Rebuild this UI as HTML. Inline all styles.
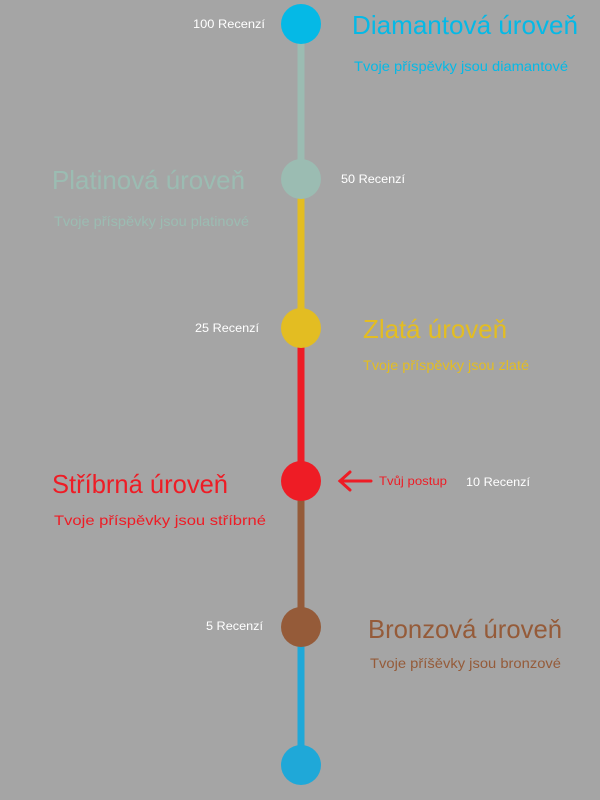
<!DOCTYPE html>
<html><head><meta charset="utf-8"><style>
html,body{margin:0;padding:0;background:#a5a5a5;}
svg{display:block;font-family:"Liberation Sans",sans-serif;}
</style></head><body>
<svg width="600" height="800" viewBox="0 0 600 800" xmlns="http://www.w3.org/2000/svg">
<rect width="600" height="800" fill="#a5a5a5"/>
<rect x="297.5" y="24" width="7" height="155" fill="#9bbcb2"/>
<rect x="297.5" y="179" width="7" height="149" fill="#e3bd22"/>
<rect x="297.5" y="328" width="7" height="153" fill="#ee1c25"/>
<rect x="297.5" y="481" width="7" height="146" fill="#955b39"/>
<rect x="297.5" y="627" width="7" height="138" fill="#1fa8d8"/>
<circle cx="301" cy="24" r="20" fill="#05b9e6"/>
<circle cx="301" cy="179" r="20" fill="#9bbcb2"/>
<circle cx="301" cy="328" r="20" fill="#e3bd22"/>
<circle cx="301" cy="481" r="20" fill="#ee1c25"/>
<circle cx="301" cy="627" r="20" fill="#955b39"/>
<circle cx="301" cy="765" r="20" fill="#1fa8d8"/>

<g font-size="12" fill="#ffffff">
<text x="193" y="28" textLength="72" lengthAdjust="spacingAndGlyphs">100 Recenzí</text>
<text x="341" y="183" textLength="64" lengthAdjust="spacingAndGlyphs">50 Recenzí</text>
<text x="195" y="332" textLength="64" lengthAdjust="spacingAndGlyphs">25 Recenzí</text>
<text x="466" y="486" textLength="64" lengthAdjust="spacingAndGlyphs">10 Recenzí</text>
<text x="206" y="630" textLength="57" lengthAdjust="spacingAndGlyphs">5 Recenzí</text>
</g>

<g font-size="26">
<text x="352" y="34" fill="#05b9e6" textLength="226" lengthAdjust="spacingAndGlyphs">Diamantová úroveň</text>
<text x="52" y="189" fill="#9bbcb2" textLength="193" lengthAdjust="spacingAndGlyphs">Platinová úroveň</text>
<text x="363" y="338" fill="#e3bd22" textLength="144" lengthAdjust="spacingAndGlyphs">Zlatá úroveň</text>
<text x="52" y="493" fill="#ee1c25" textLength="176" lengthAdjust="spacingAndGlyphs">Stříbrná úroveň</text>
<text x="368" y="638" fill="#955b39" textLength="194" lengthAdjust="spacingAndGlyphs">Bronzová úroveň</text>
</g>

<g font-size="14">
<text x="354" y="71" fill="#05b9e6" textLength="214" lengthAdjust="spacingAndGlyphs">Tvoje příspěvky jsou diamantové</text>
<text x="54" y="226" fill="#9bbcb2" textLength="195" lengthAdjust="spacingAndGlyphs">Tvoje příspěvky jsou platinové</text>
<text x="363" y="370" fill="#e3bd22" textLength="166" lengthAdjust="spacingAndGlyphs">Tvoje příspěvky jsou zlaté</text>
<text x="54" y="525" fill="#ee1c25" textLength="212" lengthAdjust="spacingAndGlyphs">Tvoje příspěvky jsou stříbrné</text>
<text x="370" y="668" fill="#955b39" textLength="191" lengthAdjust="spacingAndGlyphs">Tvoje příšěvky  jsou bronzové</text>
</g>

<g stroke="#ee1c25" stroke-width="3" stroke-linecap="round" fill="none">
<line x1="340" y1="481" x2="371" y2="481"/>
<polyline points="350,472 340,481 350,490"/>
</g>
<text x="379" y="485" font-size="12" fill="#ee1c25" textLength="68" lengthAdjust="spacingAndGlyphs">Tvůj postup</text>
</svg>
</body></html>
